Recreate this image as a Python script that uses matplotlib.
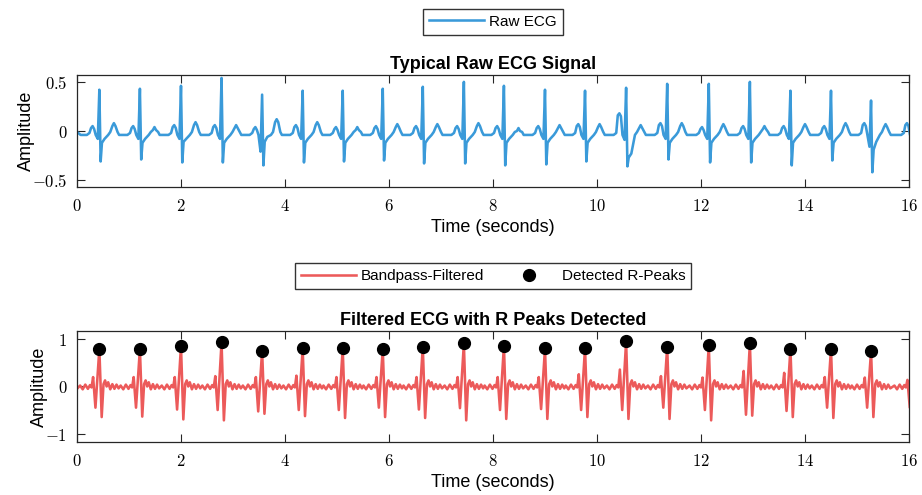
import numpy as np
import matplotlib
matplotlib.use("Agg")
import matplotlib.pyplot as plt

plt.rcParams['mathtext.fontset'] = 'cm'

# R-peak times (s)
beat_t = [0.43, 1.21, 2.00, 2.78, 3.56, 4.34, 5.11, 5.88, 6.65, 7.44,
          8.21, 9.00, 9.77, 10.56, 11.35, 12.15, 12.94, 13.72, 14.50, 15.27, 16.09]

# raw ECG, per-beat key values
raw_p = [0.05, 0.05, 0.06, 0.06, 0.04, 0.06, 0.04, 0.05, 0.05, 0.05,
         0.05, 0.05, 0.07, 0.18, 0.08, 0.04, 0.05, 0.05, 0.05, 0.08, 0.08]
raw_q = [-0.08, -0.08, -0.08, -0.08, -0.21, -0.08, -0.08, -0.08, -0.08, -0.08,
         -0.08, -0.08, -0.08, -0.09, -0.08, -0.08, -0.08, -0.08, -0.08, -0.16, -0.08]
raw_r = [0.42, 0.43, 0.46, 0.54, 0.37, 0.41, 0.41, 0.43, 0.45, 0.50,
         0.46, 0.42, 0.41, 0.44, 0.48, 0.48, 0.50, 0.41, 0.41, 0.31, 0.40]
raw_s = [-0.31, -0.29, -0.32, -0.32, -0.35, -0.32, -0.31, -0.30, -0.33, -0.33,
         -0.35, -0.34, -0.31, -0.36, -0.29, -0.32, -0.32, -0.35, -0.30, -0.42, -0.30]
raw_post = [-0.12, -0.12, -0.11, -0.12, -0.11, -0.12, -0.12, -0.12, -0.12, -0.12,
            -0.12, -0.12, -0.12, -0.27, -0.12, -0.12, -0.12, -0.12, -0.12, -0.19, -0.12]
raw_post2 = [-0.08, -0.08, -0.08, -0.08, -0.06, -0.08, -0.08, -0.08, -0.08, -0.08,
             -0.08, -0.08, -0.08, -0.23, -0.08, -0.08, -0.08, -0.08, -0.08, -0.11, -0.08]
raw_tw = [0.08, 0.04, 0.09, 0.06, 0.12, 0.09, 0.04, 0.07, 0.07, 0.08,
          0.03, 0.06, 0.07, 0.06, 0.08, 0.07, 0.05, 0.07, 0.08, 0.07, 0.07]

# typical raw beat shape (offset from R in s, amplitude)
raw_tpl_t = [-0.36, -0.24, -0.19, -0.16, -0.13, -0.10, -0.07, -0.03, 0.0, 0.025,
             0.05, 0.10, 0.17, 0.21, 0.25, 0.28, 0.31, 0.35, 0.38]
raw_tpl_y = [-0.04, -0.04, -0.02, 0.04, 0.06, 0.03, -0.04, -0.08, 0.42, -0.31,
             -0.12, -0.08, -0.04, -0.01, 0.05, 0.08, 0.05, -0.01, -0.04]

# filtered ECG, per-beat key values
filt_pre = [0.20, 0.20, 0.20, 0.22, 0.20, 0.23, 0.20, 0.20, 0.20, 0.20,
            0.20, 0.20, 0.26, 0.36, 0.22, 0.19, 0.33, 0.29, 0.20, 0.19, 0.14]
filt_q = [-0.45, -0.45, -0.49, -0.50, -0.53, -0.50, -0.50, -0.45, -0.49, -0.46,
          -0.50, -0.48, -0.50, -0.50, -0.45, -0.50, -0.60, -0.52, -0.45, -0.45, -0.45]
filt_r = [0.80, 0.80, 0.86, 0.94, 0.76, 0.81, 0.81, 0.80, 0.85, 0.92,
          0.87, 0.81, 0.82, 0.96, 0.85, 0.88, 0.92, 0.80, 0.80, 0.75, 0.80]
filt_s = [-0.65, -0.64, -0.70, -0.72, -0.58, -0.63, -0.67, -0.65, -0.67, -0.72,
          -0.69, -0.69, -0.65, -0.69, -0.69, -0.72, -0.62, -0.65, -0.67, -0.65, -0.65]

filt_tpl_t = [-0.37, -0.32, -0.27, -0.22, -0.18, -0.15, -0.12, -0.075, 0.0, 0.045,
              0.08, 0.11, 0.14, 0.17, 0.21, 0.25, 0.29, 0.33, 0.37]
filt_tpl_y = [0.02, -0.06, 0.04, -0.05, 0.03, -0.02, 0.20, -0.45, 0.80, -0.65,
              0.05, 0.13, 0.0, 0.09, -0.06, 0.05, -0.05, 0.04, -0.04]

x_ticks = [0, 2, 4, 6, 8, 10, 12, 14, 16]
y1_ticks = [-0.5, 0, 0.5]
y1_labels = ['$-0.5$', '$0$', '$0.5$']
y2_ticks = [-1, 0, 1]
y2_labels = ['$-1$', '$0$', '$1$']

# assemble the two traces from the beat shapes
raw_x, raw_y, filt_x, filt_y = [0.0], [-0.01], [0.0], [-0.05]
for k, tb in enumerate(beat_t):
    y = list(raw_tpl_y)
    y[4] = raw_p[k]; y[3] = raw_p[k] - 0.02; y[5] = raw_p[k] - 0.03
    y[7] = raw_q[k]; y[8] = raw_r[k]; y[9] = raw_s[k]
    y[10] = raw_post[k]; y[11] = raw_post2[k]
    y[15] = raw_tw[k]; y[14] = raw_tw[k] - 0.03; y[16] = raw_tw[k] - 0.03
    for o, v in zip(raw_tpl_t, y):
        if tb + o > 0.03:
            raw_x.append(tb + o); raw_y.append(v)
    y = list(filt_tpl_y)
    y[6] = filt_pre[k]; y[7] = filt_q[k]; y[8] = filt_r[k]; y[9] = filt_s[k]
    for o, v in zip(filt_tpl_t, y):
        if tb + o > 0.03:
            filt_x.append(tb + o); filt_y.append(v)

blue = '#3A9AD9'
red = '#EC5A5A'
tick_font = 12
lab_font = dict(family='Liberation Sans', size=13)
leg_font = {'family': 'Liberation Sans', 'size': 11}

fig = plt.figure(figsize=(9.22, 4.95), dpi=100)
ax1 = fig.add_axes([0.0835, 0.6222, 0.9024, 0.2263])
ax2 = fig.add_axes([0.0835, 0.1071, 0.9024, 0.2242])

l1, = ax1.plot(raw_x, raw_y, color=blue, lw=1.85, label='Raw ECG')
l2, = ax2.plot(filt_x, filt_y, color=red, lw=1.85, label='Bandpass-Filtered')
m2, = ax2.plot(beat_t[:-1], filt_r[:-1], 'o', color='black', ms=8.5,
               label='Detected R-Peaks')

ax1.set_ylim(-0.57, 0.57)
ax2.set_ylim(-1.18, 1.18)
ax1.set_yticks(y1_ticks, labels=y1_labels)
ax2.set_yticks(y2_ticks, labels=y2_labels)
ax1.set_title('Typical Raw ECG Signal', fontsize=13, fontweight='bold',
              family='Liberation Sans', pad=4)
ax2.set_title('Filtered ECG with R Peaks Detected', fontsize=13, fontweight='bold',
              family='Liberation Sans', pad=4)

for ax in (ax1, ax2):
    ax.set_xlim(0, 16)
    ax.set_xticks(x_ticks, labels=['$%d$' % v for v in x_ticks])
    ax.tick_params(direction='in', top=True, right=True, length=6, width=0.8,
                   labelsize=tick_font, pad=7, color='#262626')
    ax.set_xlabel('Time (seconds)', fontdict=lab_font, labelpad=3)
    ax.set_ylabel('Amplitude', fontdict=lab_font, labelpad=-2)
    for s in ax.spines.values():
        s.set_linewidth(0.9)
        s.set_color('#262626')

fig.legend(handles=[l1], loc='center', bbox_to_anchor=(0.5347, 0.956),
           prop=leg_font, fancybox=False, edgecolor='#333333', framealpha=1,
           handlelength=3.6, handletextpad=0.35, borderpad=0.4)
fig.legend(handles=[l2, m2], loc='center', bbox_to_anchor=(0.5347, 0.4424), ncol=2,
           prop=leg_font, fancybox=False, edgecolor='#333333', framealpha=1,
           handlelength=3.6, handletextpad=0.35, borderpad=0.4, columnspacing=1.1)

plt.savefig('out.png', dpi=100)
plt.close()
